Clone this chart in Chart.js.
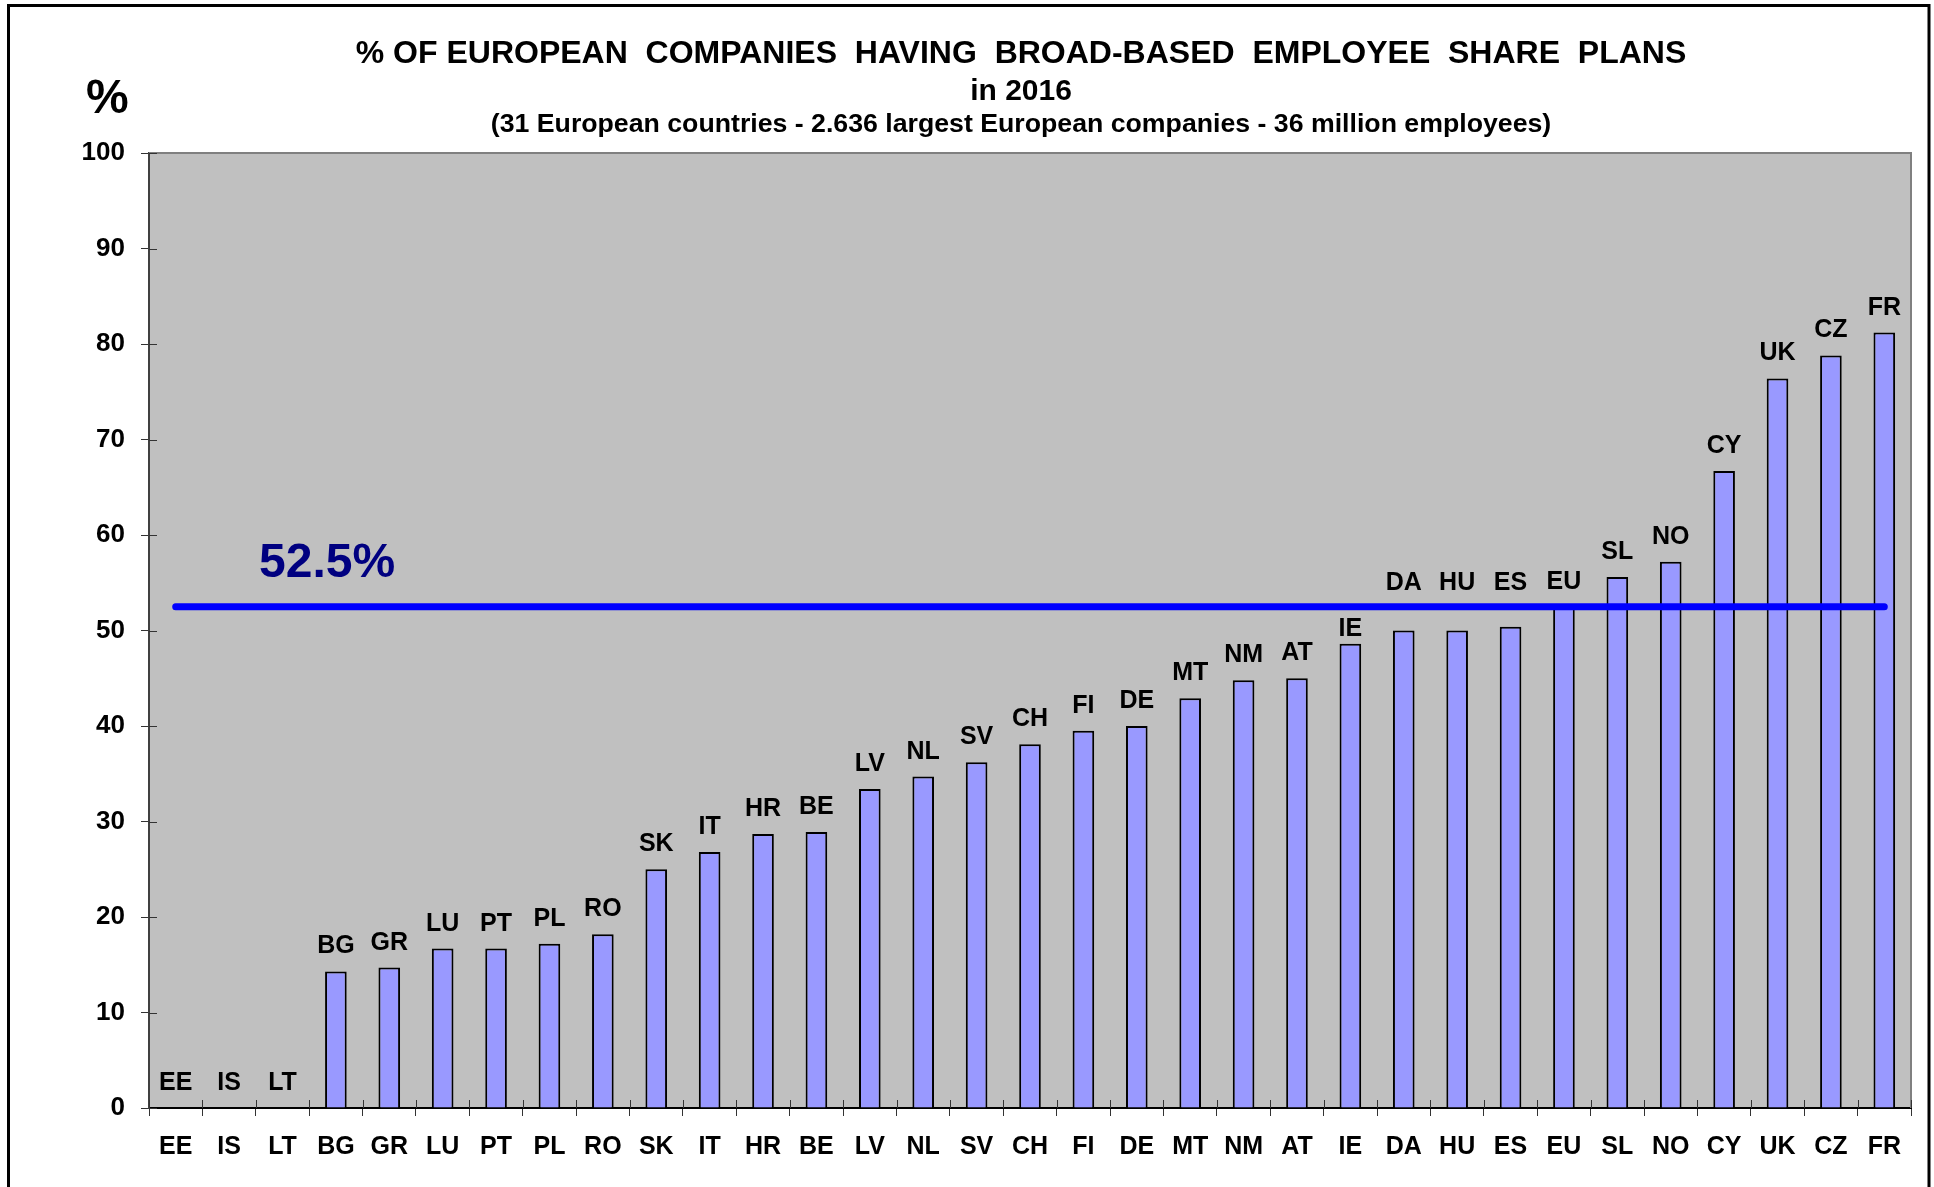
<!DOCTYPE html>
<html>
<head>
<meta charset="utf-8">
<script src="https://cdn.jsdelivr.net/npm/chart.js@4.4.1/dist/chart.umd.min.js"></script>
<style>
html, body { margin: 0; padding: 0; background: #ffffff; }
canvas { display: block; }
</style>
</head>
<body>
<canvas id="chart" width="1934" height="1187"></canvas>
<script>
// ---------------- DATA ----------------
const categories = ['EE','IS','LT','BG','GR','LU','PT','PL','RO','SK','IT','HR','BE','LV','NL','SV','CH','FI','DE','MT','NM','AT','IE','DA','HU','ES','EU','SL','NO','CY','UK','CZ','FR'];
const shareValues = [0,0,0,14.3,14.7,16.7,16.7,17.2,18.2,25.0,26.8,28.7,28.9,33.4,34.7,36.2,38.1,39.5,40.0,42.9,44.8,45.0,48.6,50.0,50.0,50.4,52.5,55.6,57.2,66.7,76.4,78.8,81.2];
const euAverage = 52.5;
const averageLine = categories.map(() => euAverage);
const yTickValues = [0,10,20,30,40,50,60,70,80,90,100];
const titleText = '% OF EUROPEAN  COMPANIES  HAVING  BROAD-BASED  EMPLOYEE  SHARE  PLANS';
const titleYear = 'in 2016';
const subtitleText = '(31 European countries - 2.636 largest European companies - 36 million employees)';
const yAxisUnit = '%';
const averageLabel = euAverage + '%';

// ---------------- STYLE ----------------
const FONT = '"Liberation Sans", Arial, Helvetica, sans-serif';
const LABEL_SIZE = 25;
const LINE_W = 7;

const decor = {
  id: 'decor',
  beforeDraw(chart) {
    const { ctx, chartArea: a } = chart;
    ctx.save();
    ctx.fillStyle = '#ffffff';
    ctx.fillRect(0, 0, chart.width, chart.height);
    ctx.fillStyle = '#C0C0C0';
    ctx.fillRect(a.left, a.top, a.right - a.left, a.bottom - a.top);
    ctx.restore();
  },
  beforeDatasetsDraw(chart) {
    const { ctx, chartArea: a, scales } = chart;
    const x = scales.x, y = scales.y;
    ctx.save();
    ctx.strokeStyle = '#808080';
    ctx.lineWidth = 2;
    ctx.beginPath();
    ctx.moveTo(a.left, a.top);
    ctx.lineTo(a.right, a.top);
    ctx.lineTo(a.right, a.bottom);
    ctx.stroke();
    // inner halves of the crossing tick marks
    ctx.strokeStyle = '#333333';
    ctx.lineWidth = 1;
    ctx.beginPath();
    y.ticks.forEach(t => {
      const py = Math.round(y.getPixelForValue(t.value)) + 0.5;
      ctx.moveTo(a.left, py);
      ctx.lineTo(a.left + 8, py);
    });
    for (let i = 0; i <= categories.length; i++) {
      const px = Math.round(x.getPixelForValue(i - 0.5)) + 0.5;
      ctx.moveTo(px, a.bottom);
      ctx.lineTo(px, a.bottom - 8);
    }
    ctx.stroke();
    ctx.restore();
  },
  afterDatasetsDraw(chart) {
    const { ctx, scales } = chart;
    const y = scales.y;
    const meta = chart.getDatasetMeta(1);
    const lineY = y.getPixelForValue(euAverage);
    const half = LINE_W / 2;
    const cap = 0.716 * LABEL_SIZE;
    ctx.save();
    ctx.font = 'bold ' + LABEL_SIZE + 'px ' + FONT;
    ctx.textAlign = 'center';
    ctx.textBaseline = 'alphabetic';
    ctx.fillStyle = '#000000';
    meta.data.forEach((bar, i) => {
      let base = bar.y - 18;
      const top = base - cap;
      if (top < lineY + half + 2 && base > lineY - half - 2) {
        const below = lineY + half + 8 + cap;
        base = (below <= bar.y - 6) ? below : lineY - half - 13;
      }
      ctx.fillText(categories[i], bar.x, base);
    });
    // average label
    ctx.font = 'bold 48px ' + FONT;
    ctx.textAlign = 'left';
    ctx.fillStyle = '#000080';
    ctx.fillText(averageLabel, chart.chartArea.left + 110, lineY - 30);
    ctx.restore();
  },
  afterDraw(chart) {
    const { ctx, chartArea: a } = chart;
    const cx = (a.left + a.right) / 2 - 9;
    ctx.save();
    ctx.fillStyle = '#000000';
    ctx.textAlign = 'center';
    ctx.textBaseline = 'alphabetic';
    ctx.font = 'bold 32px ' + FONT;
    ctx.fillText(titleText, cx, 63);
    ctx.font = 'bold 30px ' + FONT;
    ctx.fillText(titleYear, cx, 100);
    ctx.font = 'bold 26.7px ' + FONT;
    ctx.fillText(subtitleText, cx, 132);
    ctx.textAlign = 'left';
    ctx.font = 'bold 48px ' + FONT;
    ctx.fillText(yAxisUnit, 86, 113);
    // outer frame
    ctx.strokeStyle = '#000000';
    ctx.lineWidth = 3;
    ctx.beginPath();
    ctx.moveTo(8.5, chart.height + 5);
    ctx.lineTo(8.5, 5.5);
    ctx.lineTo(1929, 5.5);
    ctx.lineTo(1929, chart.height + 5);
    ctx.stroke();
    ctx.restore();
  }
};

new Chart(document.getElementById('chart'), {
  type: 'bar',
  data: {
    labels: categories,
    datasets: [
      {
        type: 'line',
        label: 'EU average',
        data: averageLine,
        borderColor: '#0000FF',
        borderWidth: LINE_W,
        borderCapStyle: 'round',
        pointRadius: 0,
        fill: false,
        order: 0
      },
      {
        type: 'bar',
        label: 'Share plans',
        data: shareValues,
        backgroundColor: '#9999FF',
        borderColor: '#000000',
        borderWidth: 2,
        barPercentage: 0.405,
        categoryPercentage: 1,
        order: 1
      }
    ]
  },
  options: {
    responsive: false,
    devicePixelRatio: 1,
    animation: false,
    events: [],
    layout: { padding: { top: 153, right: 23, left: 0, bottom: 0 } },
    plugins: { legend: { display: false }, tooltip: { enabled: false }, title: { display: false } },
    scales: {
      x: {
        offset: true,
        grid: { display: true, offset: true, drawOnChartArea: false, drawTicks: true, tickLength: 8, color: '#333333', lineWidth: 1 },
        border: { display: true, color: '#000000', width: 2 },
        ticks: { color: '#000000', font: { family: FONT, weight: 'bold', size: LABEL_SIZE }, padding: 16, maxRotation: 0, autoSkip: false },
        afterFit: s => { s.height = 79; }
      },
      y: {
        min: 0,
        max: 100,
        afterBuildTicks: s => { s.ticks = yTickValues.map(v => ({ value: v })); },
        grid: { display: true, drawOnChartArea: false, drawTicks: true, tickLength: 8, color: '#333333', lineWidth: 1 },
        border: { display: true, color: '#404040', width: 2 },
        ticks: { color: '#000000', font: { family: FONT, weight: 'bold', size: 26 }, padding: 16 },
        afterFit: s => { s.width = 149; }
      }
    }
  },
  plugins: [decor]
});
</script>
</body>
</html>
